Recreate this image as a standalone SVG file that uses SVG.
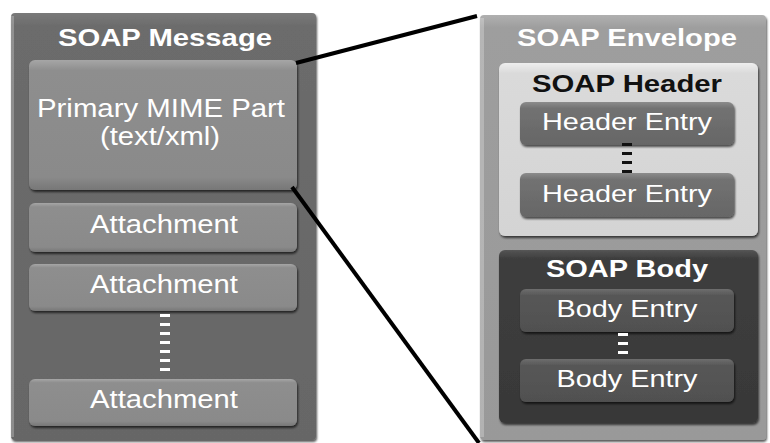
<svg xmlns="http://www.w3.org/2000/svg" width="770" height="443" viewBox="0 0 770 443">
  <defs>
    <filter id="shadow" x="-10%" y="-10%" width="120%" height="130%">
      <feDropShadow dx="1" dy="2" stdDeviation="1.2" flood-color="#000" flood-opacity="0.65"/>
    </filter>
    <linearGradient id="gMsg" x1="0" y1="0" x2="0" y2="1">
      <stop offset="0" stop-color="#7a7a7a"/>
      <stop offset="0.03" stop-color="#6c6c6c"/>
      <stop offset="1" stop-color="#666"/>
    </linearGradient>
    <linearGradient id="gPart" x1="0" y1="0" x2="0" y2="1">
      <stop offset="0" stop-color="#a6a6a6"/>
      <stop offset="0.08" stop-color="#8e8e8e"/>
      <stop offset="0.9" stop-color="#8a8a8a"/>
      <stop offset="1" stop-color="#777"/>
    </linearGradient>
    <linearGradient id="gEnv" x1="0" y1="0" x2="0" y2="1">
      <stop offset="0" stop-color="#b0b0b0"/>
      <stop offset="0.03" stop-color="#9e9e9e"/>
      <stop offset="1" stop-color="#999"/>
    </linearGradient>
    <linearGradient id="gHdr" x1="0" y1="0" x2="0" y2="1">
      <stop offset="0" stop-color="#eeeeee"/>
      <stop offset="0.06" stop-color="#dadada"/>
      <stop offset="1" stop-color="#d4d4d4"/>
    </linearGradient>
    <linearGradient id="gHdrEntry" x1="0" y1="0" x2="0" y2="1">
      <stop offset="0" stop-color="#8c8c8c"/>
      <stop offset="0.15" stop-color="#727272"/>
      <stop offset="1" stop-color="#666"/>
    </linearGradient>
    <linearGradient id="gBody" x1="0" y1="0" x2="0" y2="1">
      <stop offset="0" stop-color="#555"/>
      <stop offset="0.05" stop-color="#3e3e3e"/>
      <stop offset="1" stop-color="#383838"/>
    </linearGradient>
    <linearGradient id="gBodyEntry" x1="0" y1="0" x2="0" y2="1">
      <stop offset="0" stop-color="#6e6e6e"/>
      <stop offset="0.15" stop-color="#575757"/>
      <stop offset="1" stop-color="#505050"/>
    </linearGradient>
  </defs>
  <style>
    text { font-family: "Liberation Sans", Arial, sans-serif; text-anchor: middle; }
    .title { font-weight: bold; font-size: 24px; fill: #fff; }
    .dark { fill: #111; }
    .label { font-size: 25px; fill: #fff; }
    .entry { font-size: 24px; fill: #fff; }
    .box { filter: url(#shadow); }
    .edge { fill: #fff; opacity: 0.25; }
    .dots { fill: none; stroke-width: 10; stroke-dasharray: 3 6; }
    .link { stroke: #000; stroke-width: 4; fill: none; }
  </style>

  <rect x="0" y="0" width="770" height="443" fill="#fff"/>

  <!-- SOAP message with its MIME parts -->
  <g id="soap-message">
    <rect class="box" x="11" y="13" width="305" height="427" rx="4" fill="url(#gMsg)"/>
    <rect class="edge" x="11" y="16" width="3" height="421"/>
    <text class="title" x="165" y="46" textLength="214" lengthAdjust="spacingAndGlyphs">SOAP Message</text>
  </g>
  <g id="primary-part">
    <rect class="box" x="29" y="60" width="268" height="130" rx="6" fill="url(#gPart)"/>
    <text class="label" x="161" y="117" textLength="248" lengthAdjust="spacingAndGlyphs">Primary MIME Part</text>
    <text class="label" x="160" y="145" textLength="120" lengthAdjust="spacingAndGlyphs">(text/xml)</text>
  </g>
  <g id="attachment-1">
    <rect class="box" x="29" y="203" width="268" height="49" rx="6" fill="url(#gPart)"/>
    <text class="label" x="164" y="233" textLength="148" lengthAdjust="spacingAndGlyphs">Attachment</text>
  </g>
  <g id="attachment-2">
    <rect class="box" x="29" y="264" width="268" height="47" rx="6" fill="url(#gPart)"/>
    <text class="label" x="164" y="293" textLength="148" lengthAdjust="spacingAndGlyphs">Attachment</text>
  </g>
  <g id="attachment-ellipsis">
    <line class="dots" x1="165" y1="314" x2="165" y2="375" stroke="#fff"/>
  </g>
  <g id="attachment-3">
    <rect class="box" x="29" y="379" width="268" height="47" rx="6" fill="url(#gPart)"/>
    <text class="label" x="164" y="408" textLength="148" lengthAdjust="spacingAndGlyphs">Attachment</text>
  </g>

  <!-- SOAP envelope detail -->
  <g id="soap-envelope">
    <rect class="box" x="480" y="15" width="286" height="425" rx="4" fill="url(#gEnv)"/>
    <rect class="edge" x="480" y="18" width="4" height="419"/>
    <text class="title" x="627" y="46" textLength="220" lengthAdjust="spacingAndGlyphs">SOAP Envelope</text>
  </g>
  <g id="soap-header">
    <rect class="box" x="499" y="63" width="259" height="173" rx="6" fill="url(#gHdr)"/>
    <text class="title dark" x="627" y="92" textLength="190" lengthAdjust="spacingAndGlyphs">SOAP Header</text>
  </g>
  <g id="header-entry-1">
    <rect class="box" x="520" y="102" width="214" height="43" rx="6" fill="url(#gHdrEntry)"/>
    <text class="entry" x="627" y="130" textLength="170" lengthAdjust="spacingAndGlyphs">Header Entry</text>
  </g>
  <g id="header-ellipsis">
    <line class="dots" x1="627" y1="143" x2="627" y2="173" stroke="#111"/>
  </g>
  <g id="header-entry-2">
    <rect class="box" x="520" y="173" width="214" height="44" rx="6" fill="url(#gHdrEntry)"/>
    <text class="entry" x="627" y="202" textLength="170" lengthAdjust="spacingAndGlyphs">Header Entry</text>
  </g>
  <g id="soap-body">
    <rect class="box" x="499" y="250" width="259" height="173" rx="6" fill="url(#gBody)"/>
    <text class="title" x="627" y="277" textLength="162" lengthAdjust="spacingAndGlyphs">SOAP Body</text>
  </g>
  <g id="body-entry-1">
    <rect class="box" x="520" y="289" width="214" height="43" rx="6" fill="url(#gBodyEntry)"/>
    <text class="entry" x="627" y="317" textLength="141" lengthAdjust="spacingAndGlyphs">Body Entry</text>
  </g>
  <g id="body-ellipsis">
    <line class="dots" x1="623" y1="333" x2="623" y2="356" stroke="#fff"/>
  </g>
  <g id="body-entry-2">
    <rect class="box" x="520" y="359" width="214" height="43" rx="6" fill="url(#gBodyEntry)"/>
    <text class="entry" x="627" y="387" textLength="141" lengthAdjust="spacingAndGlyphs">Body Entry</text>
  </g>

  <!-- zoom lines from the primary part to the envelope -->
  <g id="connectors">
    <line class="link" x1="296" y1="63" x2="477" y2="16"/>
    <line class="link" x1="292" y1="187" x2="479" y2="443"/>
  </g>
</svg>
